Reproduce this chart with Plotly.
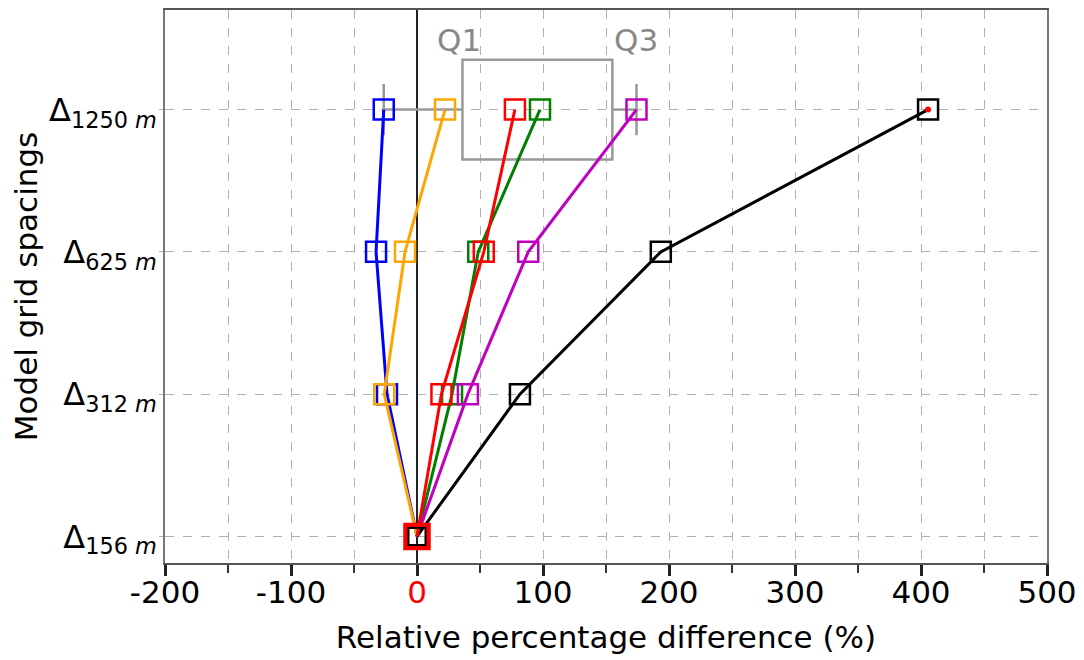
import numpy as np
import plotly.graph_objects as go

# ---- data ----
spacings = ["156", "312", "625", "1250"]          # model grid spacings (m), bottom -> top
blue    = [0, -23.8, -32.5, -26.4]
orange  = [0, -26.0,  -9.5,  22.2]
green   = [0,  27.8,  48.6,  97.6]
magenta = [0,  40.4,  88.3, 174.2]
black   = [0,  81.7, 193.5, 405.6]
red     = [0,  19.4,  53.0,  77.7]
x_ticks = [-200, -100, 0, 100, 200, 300, 400, 500]

ypos = list(range(len(spacings)))
FONT = "DejaVu Sans"

fig = go.Figure()

# ---- box (Q1..Q3) for the coarsest spacing ----
top_vals = np.array([blue[-1], orange[-1], green[-1], magenta[-1], black[-1], red[-1]])
q1, q3 = np.percentile(top_vals, [25, 75])
iqr = q3 - q1
lo = top_vals[top_vals >= q1 - 1.5 * iqr].min()
hi = top_vals[top_vals <= q3 + 1.5 * iqr].max()
yt = ypos[-1]
gray = "#999999"
bh, ch = 0.35, 0.18
box_line = dict(color=gray, width=2.5)
fig.add_shape(type="rect", x0=q1, x1=q3, y0=yt - bh, y1=yt + bh, line=box_line, layer="between")
fig.add_shape(type="line", x0=lo, x1=q1, y0=yt, y1=yt, line=box_line, layer="between")
fig.add_shape(type="line", x0=q3, x1=hi, y0=yt, y1=yt, line=box_line, layer="between")
fig.add_shape(type="line", x0=lo, x1=lo, y0=yt - ch, y1=yt + ch, line=box_line, layer="between")
fig.add_shape(type="line", x0=hi, x1=hi, y0=yt - ch, y1=yt + ch, line=box_line, layer="between")
fig.add_annotation(x=q1 - 3, y=yt + 0.49, text="Q1", showarrow=False,
                   font=dict(family=FONT, size=31, color="#888888"), yanchor="middle")
fig.add_annotation(x=hi, y=yt + 0.49, text="Q3", showarrow=False,
                   font=dict(family=FONT, size=31, color="#888888"), yanchor="middle")

series = [
    ("blue", blue, "#0000ff"),
    ("orange", orange, "#ffa500"),
    ("green", green, "#008000"),
    ("magenta", magenta, "#bf00bf"),
    ("black", black, "#000000"),
    ("red", red, "#ff0000"),
]
for name, vals, col in series:
    fig.add_trace(go.Scatter(
        x=vals, y=ypos, mode="lines+markers", name=name,
        line=dict(color=col, width=3),
        marker=dict(symbol="square-open", size=20, color=col, line=dict(width=2.5, color=col)),
        showlegend=False, hoverinfo="skip"))

# emphasised reference point at the finest spacing
fig.add_trace(go.Scatter(x=[red[0]], y=[ypos[0]], mode="markers",
                         marker=dict(symbol="square-open", size=24, color="#ff0000",
                                     line=dict(width=3.5, color="#ff0000")),
                         showlegend=False, hoverinfo="skip"))
fig.add_trace(go.Scatter(x=[black[0]], y=[ypos[0]], mode="markers",
                         marker=dict(symbol="square-open", size=17, color="#000000",
                                     line=dict(width=2, color="#000000")),
                         showlegend=False, hoverinfo="skip"))
fig.add_trace(go.Scatter(x=[black[-1]], y=[ypos[-1]], mode="markers",
                         marker=dict(symbol="circle", size=6, color="#ff0000"),
                         showlegend=False, hoverinfo="skip"))

xt_text = ['<span style="color:red">0</span>' if v == 0 else str(v) for v in x_ticks]
yt_text = [f"Δ<sub>{s}<i> m</i></sub>" for s in spacings]

grid = "#b0b0b0"
# page body has an 8px margin; figure sized/offset to compensate
fig.update_layout(
    width=1076, height=652,
    margin=dict(l=157, r=37, t=2, b=97, autoexpand=False),
    plot_bgcolor="white", paper_bgcolor="white",
    font=dict(family=FONT, color="black"),
    xaxis=dict(
        range=[-200, 500], tickvals=x_ticks, ticktext=xt_text,
        tickfont=dict(size=31), ticks="outside", ticklen=11, tickwidth=3, tickcolor="#222",
        ticklabelstandoff=-10,
        showgrid=True, gridcolor=grid, griddash="dash", gridwidth=1,
        minor=dict(dtick=50, tick0=0, ticks="outside", ticklen=8, tickwidth=1.5, tickcolor="#333",
                   showgrid=True, gridcolor=grid, griddash="dash", gridwidth=1),
        showline=True, mirror=True, linecolor="#555555", linewidth=1.5,
        zeroline=True, zerolinecolor="#222222", zerolinewidth=2, automargin=False,
        title=dict(text="Relative percentage difference (%)", font=dict(size=31), standoff=17),
    ),
    yaxis=dict(
        range=[-0.187, 3.70], tickvals=ypos, ticktext=yt_text,
        tickfont=dict(size=32), ticks="outside", ticklen=4, tickcolor=grid,
        ticklabelstandoff=-4,
        showgrid=True, gridcolor=grid, griddash="dash", gridwidth=1,
        showline=True, mirror=True, linecolor="#777777", linewidth=1.5,
        zeroline=False, automargin=False,
        title=dict(text="Model grid spacings", font=dict(size=31), standoff=10),
    ),
)

fig.write_html("out.html")
